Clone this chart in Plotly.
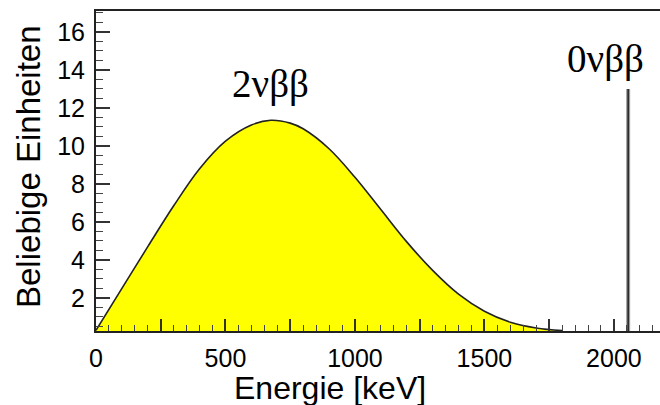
import plotly.graph_objects as go

# 2νββ continuous spectrum
energy_2nu = [0, 100, 200, 300, 400, 500, 600, 675, 750, 800, 900, 1000,
              1100, 1200, 1300, 1400, 1500, 1600, 1700, 1800]
rate_2nu = [0.3, 2.5, 4.7, 6.85, 8.8, 10.25, 11.1, 11.35, 11.2, 10.9, 9.85, 8.35,
            6.65, 4.95, 3.45, 2.2, 1.3, 0.72, 0.42, 0.28]

# 0νββ line
peak_energy = [2055, 2055]
peak_rate = [0, 13.0]

# ticks
x_tickvals = [0, 250, 500, 750, 1000, 1250, 1500, 1750, 2000]
x_ticktext = ["0", "", "500", "", "1000", "", "1500", "", "2000"]
y_tickvals = [2, 4, 6, 8, 10, 12, 14, 16]
y_ticktext = ["2", "4", "6", "8", "10", "12", "14", "16"]

label_2nu = "2νββ"
label_0nu = "0νββ"
x_title = "Energie [keV]"
y_title = "Beliebige Einheiten"

fig = go.Figure()
fig.add_trace(go.Scatter(
    x=energy_2nu, y=rate_2nu, mode="lines", fill="tozeroy",
    fillcolor="#FFFF00", line=dict(color="#222222", width=1.6, shape="spline", smoothing=1.0),
    hoverinfo="skip", showlegend=False))
fig.add_trace(go.Scatter(
    x=peak_energy, y=peak_rate, mode="lines",
    line=dict(color="#9a9a9a", width=4), showlegend=False, hoverinfo="skip"))
fig.add_trace(go.Scatter(
    x=peak_energy, y=peak_rate, mode="lines",
    line=dict(color="#222222", width=1.5), showlegend=False, hoverinfo="skip"))

fig.update_layout(
    width=660, height=405,
    margin=dict(l=96, r=0, t=11, b=74),
    paper_bgcolor="white", plot_bgcolor="white",
    font=dict(family="Liberation Sans, Arial, sans-serif", color="black"),
    xaxis=dict(
        range=[0, 2178], showgrid=False, zeroline=False,
        showline=True, linecolor="#222222", linewidth=2, mirror=True,
        tickmode="array", tickvals=x_tickvals, ticktext=x_ticktext,
        ticks="inside", ticklen=12, tickwidth=1.5, tickcolor="#333333",
        tickfont=dict(size=25, color="black"), ticklabelstandoff=4,
        minor=dict(dtick=50, ticks="inside", ticklen=6, tickwidth=1.3, tickcolor="#444444"),
    ),
    yaxis=dict(
        range=[0.26, 17.1], showgrid=False, zeroline=False,
        showline=True, linecolor="#222222", linewidth=2,
        tickmode="array", tickvals=y_tickvals, ticktext=y_ticktext,
        ticks="inside", ticklen=14, tickwidth=1.5, tickcolor="#333333",
        tickfont=dict(size=25, color="black"), ticklabelstandoff=4,
        minor=dict(dtick=0.5, ticks="inside", ticklen=7, tickwidth=1.3, tickcolor="#444444"),
    ),
    annotations=[
        dict(text=label_2nu, x=674, y=13.28, xref="x", yref="y", showarrow=False,
             xanchor="center", yanchor="middle",
             font=dict(family="Liberation Serif, Times New Roman, serif", size=39, color="black")),
        dict(text=label_0nu, x=1969, y=14.55, xref="x", yref="y", showarrow=False,
             xanchor="center", yanchor="middle",
             font=dict(family="Liberation Serif, Times New Roman, serif", size=39, color="black")),
        dict(text=x_title, x=(330 - 96) / 564, y=(331 - 388) / 320, xref="paper", yref="paper",
             showarrow=False, xanchor="center", yanchor="middle",
             font=dict(size=32, color="black")),
        dict(text=y_title, x=(28 - 96) / 564, y=(331 - 167) / 320, xref="paper", yref="paper",
             showarrow=False, xanchor="center", yanchor="middle", textangle=-90,
             font=dict(size=33, color="black")),
    ],
)

fig.write_html("out.html", config={"displayModeBar": False},
               post_script="document.body.style.margin='0';document.body.style.overflow='hidden';")
